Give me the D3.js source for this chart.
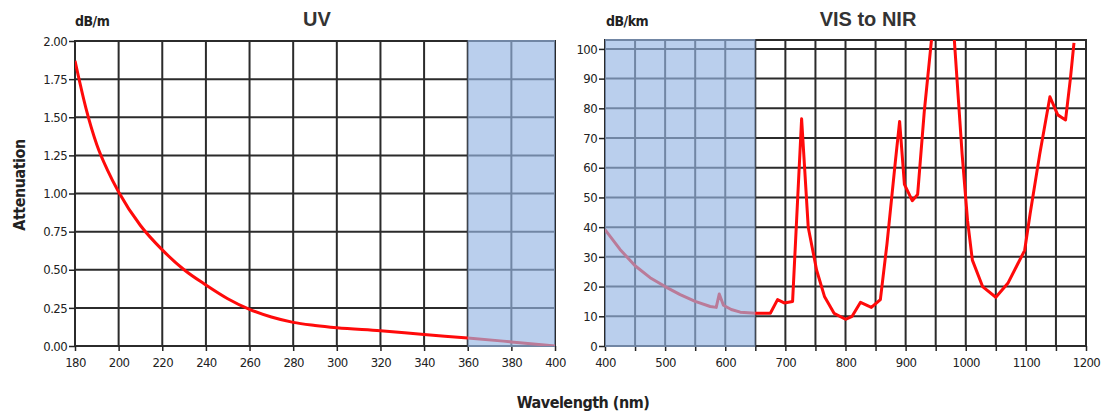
<!DOCTYPE html>
<html>
<head>
<meta charset="utf-8">
<script src="https://cdn.jsdelivr.net/npm/d3@7"></script>
<style>
  body { margin: 0; background: #fff; }
  svg { display: block; }
  .tick text { font-family: "Liberation Sans Narrow", "DejaVu Sans Condensed", sans-serif; font-size: 13px; letter-spacing: -0.6px; fill: #222; }
  .tick line { stroke: #222; stroke-width: 1.5; }
  .unit, .axis-title { font-family: "Liberation Sans Narrow", "DejaVu Sans Condensed", sans-serif; font-weight: bold; fill: #222; letter-spacing: -0.5px; }
  .title { font-family: "Liberation Sans", Arial, sans-serif; font-weight: bold; fill: #333; }
</style>
</head>
<body>
<div class="chart"></div>
<script>
// UV panel (dB/m)
var uvWavelength = [180, 185, 190, 195, 200, 210, 220, 230, 240, 250, 260, 270, 280, 290, 300, 320, 340, 360, 380, 400];
var uvAttenuation = [1.87, 1.56, 1.32, 1.15, 1.01, 0.79, 0.63, 0.50, 0.40, 0.31, 0.24, 0.19, 0.155, 0.135, 0.12, 0.10, 0.075, 0.053, 0.027, 0.0];
var uvXTicks = [180, 200, 220, 240, 260, 280, 300, 320, 340, 360, 380, 400];
var uvYTicks = [0, 0.25, 0.5, 0.75, 1, 1.25, 1.5, 1.75, 2];
var uvShade = [360, 400];

// VIS to NIR panel (dB/km)
var nirWavelength = [400, 425, 450, 475, 500, 525, 550, 575, 585, 590, 597, 610, 625, 650, 675, 687, 698, 712, 727, 738, 752, 765, 781, 800, 811, 825, 843, 858, 869, 883, 890, 898, 911, 920, 931, 943, 962, 981, 994, 1003, 1011, 1028, 1050, 1070, 1098, 1107, 1123, 1140, 1153, 1166, 1174, 1180];
var nirAttenuation = [39.2, 32.5, 27, 23, 20, 17.3, 15, 13.3, 13, 17.5, 13.7, 12.3, 11.4, 11, 11, 15.6, 14.5, 15, 76.5, 40, 25.5, 16.7, 11, 9, 10, 14.7, 13, 15.6, 34.4, 62.2, 75.6, 54.4, 48.9, 51, 78.9, 103, 150, 103, 64.5, 42.2, 28.9, 20, 16.4, 21.1, 32.2, 44.4, 64.5, 83.9, 77.8, 76.1, 89.9, 102];
var nirXTicks = [400, 450, 500, 550, 600, 650, 700, 750, 800, 850, 900, 950, 1000, 1050, 1100, 1150, 1200];
var nirYTicks = [0, 10, 20, 30, 40, 50, 60, 70, 80, 90, 100];
var nirShade = [400, 650];

var width = 1107, height = 414;

var svg = d3.select(".chart").append("svg")
    .attr("width", width)
    .attr("height", height);

function drawPanel(opt) {
  var x = d3.scaleLinear().domain(opt.xDomain).range([opt.left, opt.right]);
  var y = d3.scaleLinear().domain(opt.yDomain).range([opt.bottom, opt.top]);
  var g = svg.append("g");

  // gridlines
  g.selectAll(".vgrid")
      .data(opt.xTicks)
    .enter().append("line")
      .attr("x1", function(d){ return x(d); })
      .attr("x2", function(d){ return x(d); })
      .attr("y1", opt.top)
      .attr("y2", opt.bottom)
      .attr("stroke", "#2b2b2b")
      .attr("stroke-width", 2);

  g.selectAll(".hgrid")
      .data(opt.yTicks)
    .enter().append("line")
      .attr("x1", opt.left)
      .attr("x2", opt.right)
      .attr("y1", function(d){ return y(d); })
      .attr("y2", function(d){ return y(d); })
      .attr("stroke", "#2b2b2b")
      .attr("stroke-width", 2);

  g.append("rect")
      .attr("x", opt.left)
      .attr("y", opt.top)
      .attr("width", opt.right - opt.left)
      .attr("height", opt.bottom - opt.top)
      .attr("fill", "none")
      .attr("stroke", "#2b2b2b")
      .attr("stroke-width", 2);

  // axes
  var xAxis = d3.axisBottom(x)
      .tickValues(opt.xTicks)
      .tickSize(5)
      .tickPadding(7)
      .tickFormat(function(d){ return opt.xLabel(d) ? d : ""; });
  g.append("g")
      .attr("transform", "translate(0," + opt.bottom + ")")
      .call(xAxis)
      .call(function(a){ a.select(".domain").remove(); });

  var yAxis = d3.axisLeft(y)
      .tickValues(opt.yTicks)
      .tickSize(6)
      .tickPadding(2)
      .tickFormat(opt.yFormat);
  g.append("g")
      .attr("transform", "translate(" + opt.left + ",0)")
      .call(yAxis)
      .call(function(a){ a.select(".domain").remove(); });

  // curve
  var clipId = "clip" + opt.id;
  svg.append("clipPath").attr("id", clipId)
    .append("rect")
      .attr("x", opt.left)
      .attr("y", opt.top)
      .attr("width", opt.right - opt.left)
      .attr("height", opt.bottom - opt.top);

  var pts = opt.xs.map(function(d, i){ return [d, opt.ys[i]]; });
  var line = d3.line()
      .x(function(d){ return x(d[0]); })
      .y(function(d){ return y(d[1]); })
      .curve(opt.curve);

  g.append("path")
      .datum(pts)
      .attr("clip-path", "url(#" + clipId + ")")
      .attr("d", line)
      .attr("fill", "none")
      .attr("stroke", "#ff0a0a")
      .attr("stroke-width", 3)
      .attr("stroke-linejoin", "round");

  // shaded band on top
  g.append("rect")
      .attr("x", x(opt.shade[0]))
      .attr("y", opt.top - 1)
      .attr("width", x(opt.shade[1]) - x(opt.shade[0]))
      .attr("height", opt.bottom - opt.top + 2)
      .attr("fill", "rgb(150,182,228)")
      .attr("opacity", 0.66);

  return {x: x, y: y};
}

drawPanel({
  id: "uv",
  left: 75, right: 555, top: 41, bottom: 346,
  xDomain: [180, 400], yDomain: [0, 2],
  xTicks: uvXTicks, yTicks: uvYTicks,
  xLabel: function(d){ return true; },
  yFormat: d3.format(".2f"),
  xs: uvWavelength, ys: uvAttenuation,
  shade: uvShade,
  curve: d3.curveMonotoneX
});

drawPanel({
  id: "nir",
  left: 605, right: 1086, top: 40, bottom: 346,
  xDomain: [400, 1200], yDomain: [0, 103],
  xTicks: nirXTicks, yTicks: nirYTicks,
  xLabel: function(d){ return d % 100 === 0; },
  yFormat: d3.format("d"),
  xs: nirWavelength, ys: nirAttenuation,
  shade: nirShade,
  curve: d3.curveLinear
});

// texts
svg.append("text").attr("class", "unit")
    .attr("x", 75).attr("y", 26)
    .style("font-size", "14px")
    .text("dB/m");

svg.append("text").attr("class", "unit")
    .attr("x", 606).attr("y", 26)
    .style("font-size", "14px")
    .text("dB/km");

svg.append("text").attr("class", "title")
    .attr("x", 317).attr("y", 26)
    .attr("text-anchor", "middle")
    .style("font-size", "20px")
    .text("UV");

svg.append("text").attr("class", "title")
    .attr("x", 868).attr("y", 26)
    .attr("text-anchor", "middle")
    .style("font-size", "20px")
    .text("VIS to NIR");

svg.append("text").attr("class", "axis-title")
    .attr("transform", "translate(25,185) rotate(-90)")
    .attr("text-anchor", "middle")
    .style("font-size", "16px")
    .text("Attenuation");

svg.append("text").attr("class", "axis-title")
    .attr("x", 583).attr("y", 408)
    .attr("text-anchor", "middle")
    .style("font-size", "16px")
    .text("Wavelength (nm)");
</script>
</body>
</html>
